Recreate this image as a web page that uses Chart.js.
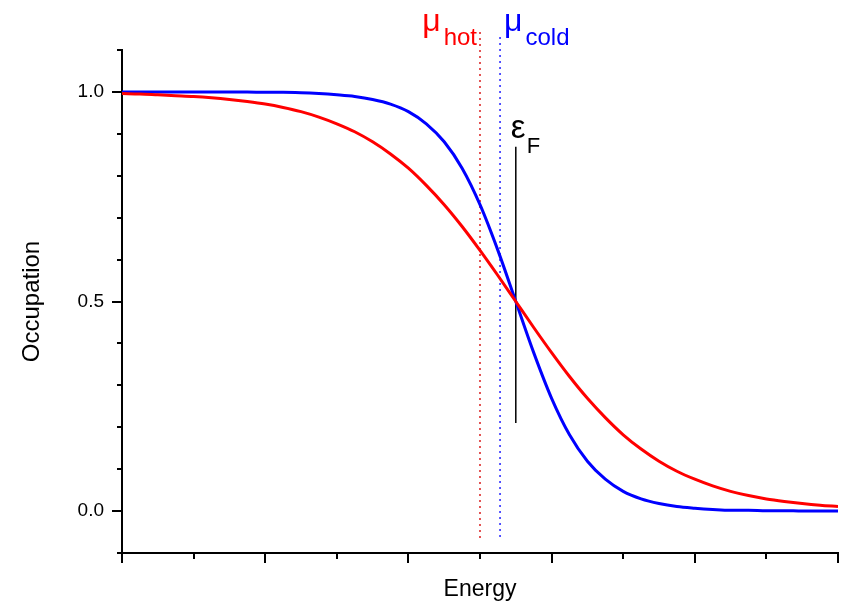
<!DOCTYPE html>
<html>
<head>
<meta charset="utf-8">
<title>Occupation vs Energy</title>
<script src="https://cdn.jsdelivr.net/npm/chart.js@4.4.1/dist/chart.umd.min.js"></script>
<style>
    html, body { margin: 0; padding: 0; background: #fff; }
    #chart { display: block; }
</style>
</head>
<body>
<canvas id="chart" width="844" height="601"></canvas>
<script>
// ========== DATA ==========
const energy = [0, 0.25, 0.5, 0.75, 1, 1.25, 1.5, 1.75, 2, 2.25, 2.5, 2.75, 3, 3.25, 3.5, 3.75,
    4, 4.25, 4.5, 4.75, 5, 5.25, 5.5, 5.75, 6, 6.25, 6.5, 6.75, 7, 7.25, 7.5, 7.75,
    8, 8.25, 8.5, 8.75, 9, 9.25, 9.5, 9.75, 10];

// hot electrons (red, broad)
const occHot = [0.996, 0.995, 0.993, 0.991, 0.989, 0.986, 0.982, 0.977, 0.971, 0.963, 0.953, 0.940,
    0.924, 0.905, 0.881, 0.852, 0.818, 0.777, 0.731, 0.679, 0.622, 0.562, 0.500, 0.438,
    0.378, 0.321, 0.269, 0.223, 0.182, 0.148, 0.119, 0.095, 0.076, 0.060, 0.047, 0.037,
    0.029, 0.023, 0.018, 0.014, 0.011];

// cold electrons (blue, sharp)
const occCold = [1.000, 1.000, 1.000, 1.000, 1.000, 1.000, 1.000, 1.000, 0.999, 0.999, 0.998, 0.996,
    0.993, 0.989, 0.982, 0.971, 0.953, 0.924, 0.881, 0.818, 0.731, 0.622, 0.500, 0.378,
    0.269, 0.182, 0.119, 0.076, 0.047, 0.029, 0.018, 0.011, 0.007, 0.004, 0.002, 0.002,
    0.001, 0.001, 0.000, 0.000, 0.000];

// marker positions (energy) and vertical extents (occupation)
const muHot = 5.0;
const muCold = 5.28;
const fermiLevel = 5.5;
const muHotSpan = [1.143, -0.074];
const muColdSpan = [1.131, -0.064];
const fermiSpan = [0.869, 0.21];

const yTicks = [0, 0.5, 1.0];

const FONT = '"Liberation Sans", Arial, sans-serif';

function pairs(xs, ys) {
    return xs.map((x, i) => ({ x: x, y: ys[i] }));
}

function isMajorY(v) {
    return yTicks.some(t => Math.abs(t - v) < 1e-6);
}

// ========== TICK MARKS + LABELS ==========
const decorPlugin = {
    id: 'decor',
    afterDraw(chart) {
        const ctx = chart.ctx;
        const xs = chart.scales.x;
        const ys = chart.scales.y;
        const area = chart.chartArea;

        ctx.save();
        ctx.strokeStyle = '#000';
        ctx.lineWidth = 2;
        ctx.beginPath();
        ys.ticks.forEach(t => {
            const py = Math.round(ys.getPixelForValue(t.value));
            const len = isMajorY(t.value) ? 10 : 5;
            ctx.moveTo(area.left - len, py);
            ctx.lineTo(area.left, py);
        });
        xs.ticks.forEach(t => {
            const px = Math.round(xs.getPixelForValue(t.value));
            const len = Math.round(t.value) % 2 === 0 ? 10 : 6;
            ctx.moveTo(px, area.bottom);
            ctx.lineTo(px, area.bottom + len);
        });
        ctx.stroke();

        // mu_hot
        ctx.textBaseline = 'alphabetic';
        ctx.fillStyle = '#ff0000';
        let px = xs.getPixelForValue(muHot);
        ctx.font = '24px ' + FONT;
        ctx.textAlign = 'right';
        const hotW = ctx.measureText('hot').width;
        ctx.fillText('hot', px - 3, 45);
        ctx.font = '32px ' + FONT;
        ctx.fillText('μ', px - 3 - hotW - 3, 31);

        // mu_cold
        ctx.fillStyle = '#0000ff';
        px = xs.getPixelForValue(muCold);
        ctx.textAlign = 'left';
        ctx.font = '32px ' + FONT;
        const muW = ctx.measureText('μ').width;
        ctx.fillText('μ', px + 4, 31);
        ctx.font = '24px ' + FONT;
        ctx.fillText('cold', px + 4 + muW + 3, 45);

        // epsilon_F
        ctx.fillStyle = '#000';
        px = xs.getPixelForValue(fermiLevel);
        ctx.font = '33px ' + FONT;
        ctx.fillText('ε', px - 5, 138);
        ctx.font = '22px ' + FONT;
        ctx.fillText('F', px + 11, 153);
        ctx.restore();
    }
};

// ========== CHART ==========
const canvas = document.getElementById('chart');
new Chart(canvas, {
    type: 'line',
    data: {
        datasets: [{
            label: 'hot',
            data: pairs(energy, occHot),
            borderColor: '#ff0000',
            borderWidth: 3,
            pointRadius: 0,
            cubicInterpolationMode: 'monotone',
            fill: false
        }, {
            label: 'cold',
            data: pairs(energy, occCold),
            borderColor: '#0000ff',
            borderWidth: 3,
            pointRadius: 0,
            cubicInterpolationMode: 'monotone',
            fill: false
        }, {
            label: 'mu hot',
            data: [{ x: muHot, y: muHotSpan[0] }, { x: muHot, y: muHotSpan[1] }],
            borderColor: '#dd2a2a',
            borderWidth: 1.6,
            borderDash: [2, 4],
            pointRadius: 0,
            clip: false
        }, {
            label: 'mu cold',
            data: [{ x: muCold, y: muColdSpan[0] }, { x: muCold, y: muColdSpan[1] }],
            borderColor: '#2f2fff',
            borderWidth: 1.6,
            borderDash: [2, 4],
            pointRadius: 0,
            clip: false
        }, {
            label: 'eF',
            data: [{ x: fermiLevel, y: fermiSpan[0] }, { x: fermiLevel, y: fermiSpan[1] }],
            borderColor: '#000',
            borderWidth: 1.5,
            pointRadius: 0,
            clip: false
        }]
    },
    options: {
        responsive: false,
        animation: false,
        layout: { padding: { top: 50, right: 6, left: 0, bottom: 0 } },
        plugins: {
            legend: { display: false },
            tooltip: { enabled: false }
        },
        scales: {
            x: {
                type: 'linear',
                min: 0,
                max: 10,
                afterFit: function(scale) { scale.height = 48; },
                grid: { display: false, drawTicks: false },
                border: { display: true, color: '#000', width: 2 },
                ticks: { display: false, stepSize: 1 },
                title: {
                    display: true,
                    text: 'Energy',
                    color: '#000',
                    font: { family: FONT, size: 23 },
                    padding: { top: 0, bottom: -2 }
                }
            },
            y: {
                type: 'linear',
                min: -0.1,
                max: 1.1,
                afterFit: function(scale) { scale.width = 122; },
                grid: { display: false, drawTicks: false },
                border: { display: true, color: '#000', width: 2 },
                ticks: {
                    stepSize: 0.1,
                    padding: 18,
                    color: '#000',
                    font: { family: FONT, size: 19 },
                    autoSkip: false,
                    callback: function(value) {
                        return isMajorY(value) ? value.toFixed(1) : '';
                    }
                },
                title: {
                    display: true,
                    text: 'Occupation',
                    color: '#000',
                    font: { family: FONT, size: 24 },
                    padding: { top: 18, bottom: 0 }
                }
            }
        }
    },
    plugins: [decorPlugin]
});
</script>
</body>
</html>
